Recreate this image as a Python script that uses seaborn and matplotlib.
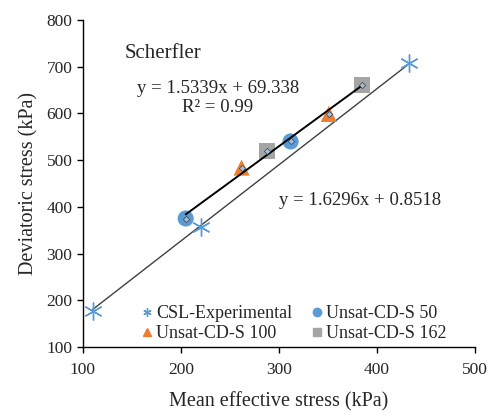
import numpy as np
import pandas as pd
import matplotlib
matplotlib.use("Agg")
import matplotlib.pyplot as plt
import seaborn as sns

# data
csl_p = [110, 221, 433]
csl_q = [178, 356, 707]
s50_p = [205, 312]
s50_q = [375, 540]
s100_p = [262, 351]
s100_q = [484, 599]
s162_p = [288, 385]
s162_q = [519, 660]

series_names = ["CSL-Experimental", "Unsat-CD-S 50", "Unsat-CD-S 100", "Unsat-CD-S 162"]
unsat_fit = (1.5339, 69.338)
csl_fit = (1.6296, 0.8518)

rows = []
for name, p, q in zip(series_names, [csl_p, s50_p, s100_p, s162_p], [csl_q, s50_q, s100_q, s162_q]):
    for a, b in zip(p, q):
        rows.append({"p": a, "q": b, "series": name})
df = pd.DataFrame(rows)

sns.set_style("ticks")
plt.rcParams["font.family"] = ["Liberation Serif", "DejaVu Serif"]

fig = plt.figure(figsize=(4.9, 4.17), dpi=100)
ax = fig.add_axes([0.169, 0.168, 0.8, 0.784])

palette = {"CSL-Experimental": "#5B9BD5", "Unsat-CD-S 50": "#5B9BD5",
           "Unsat-CD-S 100": "#ED7D31", "Unsat-CD-S 162": "#A5A5A5"}
markers = {"CSL-Experimental": (6, 2, 0), "Unsat-CD-S 50": "o",
           "Unsat-CD-S 100": "^", "Unsat-CD-S 162": "s"}

# trend lines
x1 = np.array([min(s50_p), max(s162_p)])
ax.plot(x1, unsat_fit[0] * x1 + unsat_fit[1], color="black", lw=1.4, zorder=3)
x2 = np.array([min(csl_p), max(csl_p)])
ax.plot(x2, csl_fit[0] * x2 + csl_fit[1], color="#404040", lw=1.0, zorder=1)

for name in series_names:
    sub = df[df["series"] == name]
    if name == "CSL-Experimental":
        sns.scatterplot(data=sub, x="p", y="q", marker=(6, 2, 0), s=160,
                        color=palette[name], edgecolor=palette[name], linewidth=1.0,
                        ax=ax, legend=False, zorder=2)
    else:
        sns.scatterplot(data=sub, x="p", y="q", marker=markers[name], s=135,
                        color=palette[name], edgecolor="none", linewidth=0,
                        ax=ax, legend=False, zorder=2)

# small diamonds on the unsat points (trendline series)
up = df[df["series"] != "CSL-Experimental"]
ax.scatter(up["p"], up["q"], marker="D", s=10, facecolor="#9DC3E6", edgecolor="#404040",
           linewidth=0.5, zorder=4)

# legend (column-major order so rows read CSL/S50 then S100/S162)
order = [0, 2, 1, 3]
handles = [plt.Line2D([], [], ls="none", marker=markers[series_names[i]],
                      color=palette[series_names[i]],
                      markeredgecolor=palette[series_names[i]], markersize=6) for i in order]
ax.legend(handles, [series_names[i] for i in order], loc="lower center", ncol=2,
          frameon=False, fontsize=13, handletextpad=0.05, columnspacing=0.9,
          labelspacing=0.15, handlelength=0.9, bbox_to_anchor=(0.535, -0.035))

ax.text(143, 729, "Scherfler", fontsize=15, va="center")
ax.text(238, 654, "y = 1.5339x + 69.338", fontsize=13.5, ha="center", va="center")
ax.text(238, 612, "R² = 0.99", fontsize=13.5, ha="center", va="center")
ax.text(383, 414, "y = 1.6296x + 0.8518", fontsize=13.5, ha="center", va="center")

ax.set_xlim(100, 500)
ax.set_ylim(100, 800)
ax.set_xticks([100, 200, 300, 400, 500])
ax.set_yticks(range(100, 801, 100))
ax.set_xlabel("Mean effective stress (kPa)", fontsize=14.5, labelpad=10)
ax.set_ylabel("Deviatoric stress (kPa)", fontsize=14.5, labelpad=6)
ax.tick_params(labelsize=12.5, length=4, width=1, color="black", direction="out")
ax.tick_params(axis="x", pad=7)
for sp in ["left", "bottom"]:
    ax.spines[sp].set_color("black")
    ax.spines[sp].set_linewidth(1.0)
sns.despine(ax=ax)

fig.savefig("out.png", dpi=100)
